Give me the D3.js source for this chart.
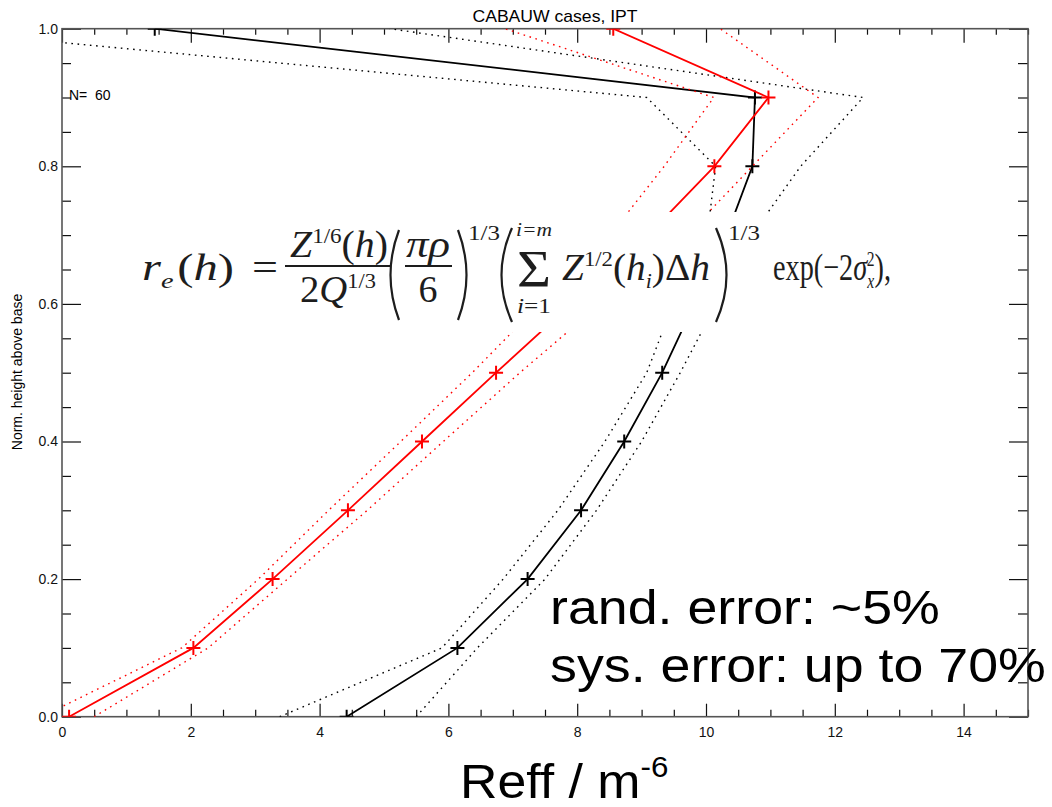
<!DOCTYPE html>
<html>
<head>
<meta charset="utf-8">
<script src="https://cdn.jsdelivr.net/npm/d3@7"></script>
<style>
  body { margin: 0; background: #fff; }
</style>
</head>
<body>
<div id="chart"></div>
<script>
// normalised height levels
const heights = [0.0, 0.1, 0.2, 0.3, 0.4, 0.5, 0.6, 0.7, 0.8, 0.9, 1.0];

// red profile, with dotted spread on both sides
const redMean = [0.11, 2.04, 3.27, 4.44, 5.59, 6.74, 7.91, 9.10, 10.13, 10.97, 8.56];
const redLow  = [-0.32, 1.86, 3.05, 4.14, 5.26, 6.37, 7.42, 8.51, 9.35, 10.12, 6.88];
const redHigh = [0.50, 2.27, 3.50, 4.74, 5.92, 7.11, 8.36, 9.70, 10.72, 11.74, 10.22];

// black profile
const blackMean = [4.42, 6.14, 7.23, 8.06, 8.73, 9.32, 9.82, 10.32, 10.72, 10.76, 1.44];
const blackLow  = [3.38, 5.90, 6.85, 7.70, 8.43, 9.08, 9.49, 10.02, 10.15, 9.08, -2.30];
const blackHigh = [5.50, 6.45, 7.50, 8.30, 9.00, 9.60, 10.16, 10.71, 11.47, 12.44, 5.09];

const xMajor = [0, 2, 4, 6, 8, 10, 12, 14];
const yMajor = [0.0, 0.2, 0.4, 0.6, 0.8, 1.0];
const xMinor = d3.range(0, 31).filter(i => i % 4 !== 0).map(i => i * 0.5);
const yMinor = d3.range(0, 21).filter(i => i % 4 !== 0).map(i => i * 0.05);

const width = 1052;
const height = 807;
const sans = '"Liberation Sans", Arial, Helvetica, sans-serif';
const serif = '"Liberation Serif", "Times New Roman", serif';

const svg = d3.select('#chart')
    .append('svg')
    .attr('width', width)
    .attr('height', height);

const x = d3.scaleLinear().domain([0, 15]).range([62, 1028]);
const y = d3.scaleLinear().domain([0, 1]).range([716.7, 28.7]);

svg.append('defs').append('clipPath').attr('id', 'clip')
    .append('rect')
    .attr('x', x(0)).attr('y', y(1))
    .attr('width', x(15) - x(0)).attr('height', y(0) - y(1));

// axes: ticks on all four sides, pointing in
const axes = svg.append('g');

function addAxis(axis, transform, values, size, pad, fmt) {
    const g = axes.append('g')
        .attr('transform', transform)
        .call(axis.tickValues(values).tickSizeInner(-size).tickSizeOuter(0).tickPadding(pad).tickFormat(fmt));
    g.select('.domain').remove();
    g.selectAll('line').attr('stroke', '#111').attr('stroke-width', 1.2);
    g.selectAll('text').attr('font-family', sans).attr('font-size', 14).attr('fill', '#111');
    return g;
}

const atBottom = `translate(0,${y(0)})`;
const atLeft = `translate(${x(0)},0)`;
const atTop = `translate(0,${y(1)})`;
const atRight = `translate(${x(15)},0)`;

addAxis(d3.axisBottom(x), atBottom, xMajor, 13, 10, d3.format('d'));
addAxis(d3.axisBottom(x), atBottom, xMinor, 7, 0, '');
addAxis(d3.axisLeft(y), atLeft, yMajor, 19, 4, d3.format('.1f'));
addAxis(d3.axisLeft(y), atLeft, yMinor, 9, 0, '');
addAxis(d3.axisTop(x), atTop, xMajor, 14, 0, '');
addAxis(d3.axisTop(x), atTop, xMinor, 6, 0, '');
addAxis(d3.axisRight(y), atRight, yMajor, 19, 0, '');
addAxis(d3.axisRight(y), atRight, yMinor, 10, 0, '');

axes.append('rect')
    .attr('x', x(0)).attr('y', y(1))
    .attr('width', x(15) - x(0)).attr('height', y(0) - y(1))
    .attr('fill', 'none')
    .attr('stroke', '#555')
    .attr('stroke-width', 1.6);

// profiles
const line = d3.line().x(d => x(d[0])).y(d => y(d[1]));
const plot = svg.append('g').attr('clip-path', 'url(#clip)');

function profile(mean, low, high, color) {
    [low, high].forEach(s => {
        plot.append('path')
            .datum(heights.map((h, i) => [s[i], h]))
            .attr('d', line)
            .attr('fill', 'none')
            .attr('stroke', color)
            .attr('stroke-width', 1.4)
            .attr('stroke-dasharray', '1.6,4.6');
    });
    const pts = heights.map((h, i) => [mean[i], h]);
    plot.append('path')
        .datum(pts)
        .attr('d', line)
        .attr('fill', 'none')
        .attr('stroke', color)
        .attr('stroke-width', 1.8);
    plot.selectAll(null)
        .data(pts)
        .join('path')
        .attr('d', 'M-7,0H7M0,-7V7')
        .attr('transform', d => `translate(${x(d[0])},${y(d[1])})`)
        .attr('stroke', color)
        .attr('stroke-width', 2);
}

profile(blackMean, blackLow, blackHigh, '#000');
profile(redMean, redLow, redHigh, '#ff0000');

// labels
svg.append('text')
    .attr('transform', 'translate(555,22) scale(1.1,1)')
    .attr('text-anchor', 'middle')
    .attr('font-family', sans).attr('font-size', 16)
    .text('CABAUW cases, IPT');

svg.append('text')
    .attr('x', 69).attr('y', 100)
    .attr('font-family', sans).attr('font-size', 14)
    .style('white-space', 'pre')
    .text('N=  60');

svg.append('text')
    .attr('transform', 'translate(22,372) rotate(-90)')
    .attr('text-anchor', 'middle')
    .attr('font-family', sans).attr('font-size', 14)
    .text('Norm. height above base');

// pasted formula on a white patch
svg.append('rect')
    .attr('x', 105).attr('y', 212)
    .attr('width', 795).attr('height', 120)
    .attr('fill', '#fff');

const fg = svg.append('g').attr('fill', '#1d1d1d').attr('font-family', serif);

// each formula piece is stretched to the width it has in the slide
function mathText(px, py, parts, w, anchor) {
    const t = fg.append('text')
        .attr('transform', `translate(${px},${py})`)
        .attr('font-size', 38)
        .attr('text-anchor', anchor || 'start');
    parts.forEach(p => {
        const s = t.append('tspan').text(p[0]);
        if (p[1]) s.attr('font-style', 'italic');
        if (p[2]) s.attr('font-size', p[2]);
        if (p[3]) s.attr('dy', p[3]);
        if (p[4]) s.attr('dx', p[4]);
    });
    const bw = t.node().getBBox().width;
    if (w && bw > 0) t.attr('transform', `translate(${px},${py}) scale(${w / bw},1)`);
}

function paren(px, y0, y1, bend) {
    fg.append('path')
        .attr('d', `M${px},${y0}Q${px + bend},${(y0 + y1) / 2} ${px},${y1}`)
        .attr('fill', 'none')
        .attr('stroke', '#1d1d1d')
        .attr('stroke-width', 2.2);
}

function bar(x0, x1, yy) {
    fg.append('line')
        .attr('x1', x0).attr('x2', x1).attr('y1', yy).attr('y2', yy)
        .attr('stroke', '#1d1d1d').attr('stroke-width', 2.2);
}

mathText(142, 280, [['r', true], ['e', true, 22, 8], ['(', false, null, -8, 3], ['h', true], [')']], 92);
mathText(252, 280, [['=']], 26);
mathText(290, 257, [['Z', true], ['1/6', false, 22, -14], ['(', false, null, 14], ['h', true], [')']], 98);
bar(285, 390, 266);
mathText(300, 302, [['2'], ['Q', true], ['1/3', false, 22, -14]], 76);
paren(399, 230, 320, -17);
mathText(428, 257, [['πρ', true]], 44, 'middle');
bar(405, 452, 266);
mathText(428, 302, [['6']], null, 'middle');
paren(458, 230, 320, 17);
mathText(468, 240, [['1/3', false, 22]], 32);
paren(512, 228, 322, -21);
mathText(534, 236, [['i=m', true, 19]], 36, 'middle');
mathText(534, 287, [['Σ', false, 52]], 34, 'middle');
mathText(534, 313, [['i', true, 22], ['=1', false, 22]], 34, 'middle');
mathText(562, 280, [['Z', true], ['1/2', false, 22, -14], ['(', false, null, 14], ['h', true], ['i', true, 21, 8], [')', false, null, -8], ['Δ'], ['h', true]], 148);
paren(716, 228, 322, 21);
mathText(728, 240, [['1/3', false, 22]], 32);
mathText(773, 280, [['exp(−2'], ['σ', true], ['x', true, 21, 8], ['2', false, 21, -22, -10], ['),', false, null, 14]], 118);

// slide annotations
const notes = svg.append('g').attr('font-family', sans).attr('fill', '#000');
notes.append('text')
    .attr('transform', 'translate(550,624) scale(1.12,1)')
    .attr('font-size', 48)
    .text('rand. error: ~5%');
notes.append('text')
    .attr('transform', 'translate(550,682) scale(1.12,1)')
    .attr('font-size', 48)
    .text('sys. error: up to 70%');
const reff = notes.append('text')
    .attr('transform', 'translate(460,798) scale(1.08,1)')
    .attr('font-size', 48);
reff.append('tspan').text('Reff / m');
reff.append('tspan').attr('font-size', 29).attr('dy', -21).text('-6');
</script>
</body>
</html>
